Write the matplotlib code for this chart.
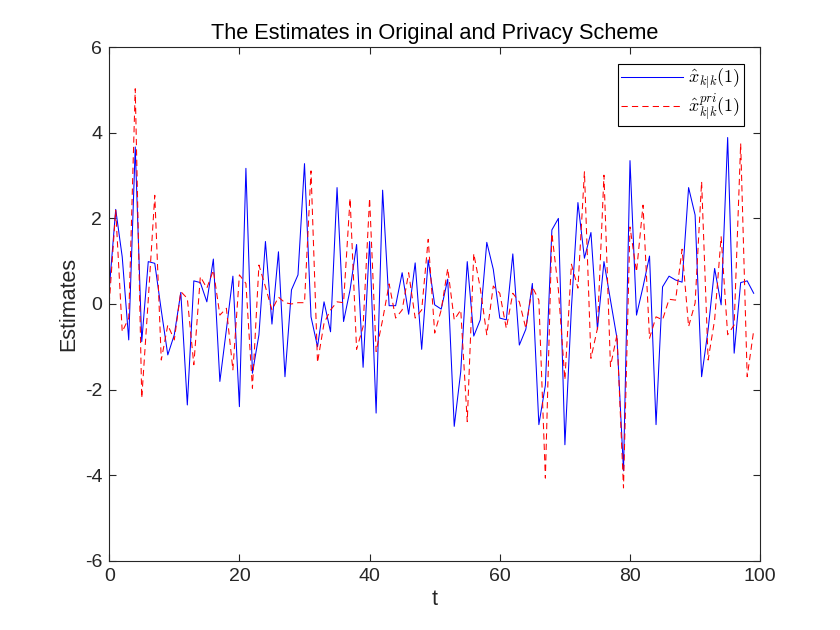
import matplotlib
matplotlib.use("Agg")
import matplotlib.pyplot as plt

t = list(range(100))

x_orig = [0.33, 2.21, 1.1, -0.84, 3.67, -0.88, 0.99, 0.95, -0.15, -1.19,
          -0.72, 0.27, -2.36, 0.54, 0.5, 0.05, 1.05, -1.81, -0.6, 0.65,
          -2.4, 3.17, -1.62, -0.72, 1.46, -0.47, 1.22, -1.7, 0.33, 0.68,
          3.28, -0.3, -1.0, 0.05, -0.65, 2.72, -0.41, 0.33, 1.39, -1.48,
          1.46, -2.55, 2.66, -0.04, -0.04, 0.73, -0.24, 0.96, -1.06, 1.03,
          -0.02, -0.12, 0.58, -2.86, -1.58, 0.99, -0.75, -0.37, 1.44, 0.81,
          -0.33, -0.37, 1.17, -0.96, -0.59, 0.48, -2.82, -1.9, 1.73, 2.0,
          -3.29, -0.1, 2.37, 1.07, 1.67, -0.59, 0.99, 0.09, -0.8, -3.9,
          3.35, -0.26, 0.4, 1.12, -2.82, 0.4, 0.65, 0.56, 0.51, 2.72,
          2.08, -1.7, -0.6, 0.83, -0.02, 3.89, -1.15, 0.5, 0.54, 0.25]

x_pri = [0.0, 2.19, -0.65, -0.33, 5.03, -2.2, 0.1, 2.54, -1.31, -0.49,
         -0.84, 0.29, 0.13, -1.42, 0.64, 0.37, 0.79, -0.26, -0.1, -1.54,
         0.68, 0.48, -1.97, 0.91, 0.4, -0.14, 0.16, 0.03, 0.0, 0.03,
         0.03, 3.11, -1.37, -0.45, -0.14, 0.05, 0.03, 2.47, -1.06, -0.53,
         2.47, -1.11, -0.37, 0.47, -0.33, -0.14, 0.73, -0.33, -0.14, 1.51,
         -0.68, -0.14, 0.83, -0.37, -0.14, -2.75, 1.18, 0.37, -0.72, 0.42,
         0.25, -0.57, 0.25, 0.05, -0.57, 0.4, 0.09, -4.07, 1.65, 0.33,
         -1.77, 0.93, 0.37, 3.09, -1.27, -0.57, 3.01, -1.46, -0.72, -4.3,
         1.8, 0.75, 2.31, -0.8, -0.3, -0.37, 0.11, 0.09, 1.28, -0.53,
         0.02, 2.86, -1.31, -0.37, 1.57, -0.72, -0.49, 3.75, -1.7, -0.62]

plt.rcParams['font.family'] = ['Liberation Sans', 'DejaVu Sans']
plt.rcParams['mathtext.fontset'] = 'cm'
plt.rcParams['axes.unicode_minus'] = False

fig = plt.figure(figsize=(8.4, 6.3), dpi=100)
ax = fig.add_axes([0.13, 0.11, 0.775, 0.815])

ax.plot(t, x_orig, color='blue', lw=0.75, label=r'$\hat{x}_{k|k}(1)$')
ax.plot(t, x_pri, color='red', lw=0.75, dashes=(6, 4), label=r'$\hat{x}^{pri}_{k|k}(1)$')

ax.set_xlim(0, 100)
ax.set_ylim(-6, 6)
ax.set_xticks(range(0, 101, 20))
ax.set_yticks(range(-6, 7, 2))

dark = '#262626'
for s in ax.spines.values():
    s.set_color(dark)
    s.set_linewidth(0.8)
ax.tick_params(direction='in', top=True, right=True, length=5, width=0.8,
               colors=dark, labelsize=14, pad=5)

ax.set_title('The Estimates in Original and Privacy Scheme', fontsize=15.7, color='black', pad=6)
ax.set_xlabel('t', fontsize=15.5, color=dark, labelpad=3)
ax.set_ylabel('Estimates', fontsize=15.5, color=dark, labelpad=4)

leg = ax.legend(loc='upper right', fontsize=13, fancybox=False, framealpha=1,
                edgecolor='black', borderaxespad=0.9, handlelength=3.4,
                handletextpad=0.3, labelspacing=0.0, borderpad=0.2)
leg.get_frame().set_linewidth(0.8)

fig.savefig('out.png', dpi=100)
